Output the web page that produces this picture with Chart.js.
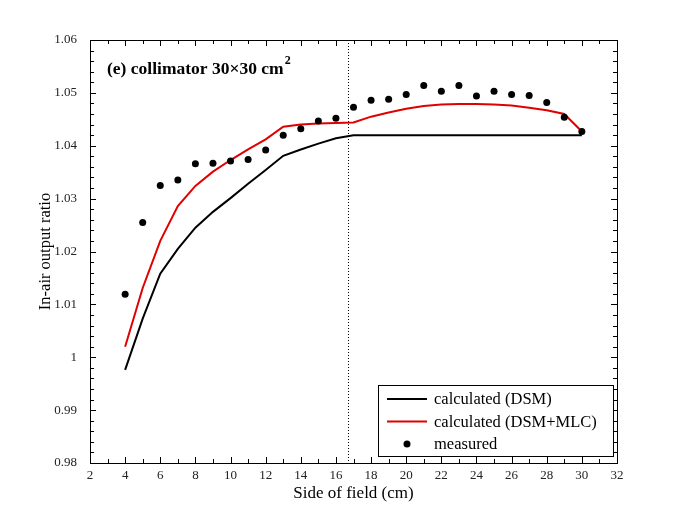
<!DOCTYPE html>
<html>
<head>
<meta charset="utf-8">
<script src="https://cdn.jsdelivr.net/npm/chart.js@4"></script>
<style>
  body { margin: 0; background: #fff; }
  #wrap { width: 681px; height: 521px; }
</style>
</head>
<body>
<div id="wrap"><canvas id="oarCanvas" width="681" height="521"></canvas></div>
<script>
// Field sizes (cm) and the three curves
const fieldSides = [4, 5, 6, 7, 8, 9, 10, 11, 12, 13, 14, 15, 16, 17, 18, 19, 20, 21, 22, 23, 24, 25, 26, 27, 28, 29, 30];
const calcDSM = [0.9976, 1.0073, 1.0158, 1.0205, 1.0245, 1.0275, 1.0301, 1.0328, 1.0354, 1.0381, 1.0393, 1.0404, 1.0414, 1.0420,
  1.0420, 1.0420, 1.0420, 1.0420, 1.0420, 1.0420, 1.0420, 1.0420, 1.0420, 1.0420, 1.0420, 1.0420, 1.0420];
const calcDSMMLC = [1.0020, 1.0131, 1.0220, 1.0286, 1.0324, 1.0351, 1.0373, 1.0393, 1.0412, 1.0436, 1.0440, 1.0442, 1.0443, 1.0444,
  1.0455, 1.0463, 1.0470, 1.0475, 1.0478, 1.0479, 1.0479, 1.0478, 1.0476, 1.0472, 1.0467, 1.0460, 1.0427];
const measured = [1.0119, 1.0255, 1.0325, 1.0335, 1.0366, 1.0367, 1.0371, 1.0374, 1.0392, 1.0420, 1.0432, 1.0447, 1.0452, 1.0473,
  1.0486, 1.0488, 1.0497, 1.0514, 1.0503, 1.0514, 1.0494, 1.0503, 1.0497, 1.0495, 1.0482, 1.0454, 1.0427];

const seriesLabels = ['calculated (DSM)', 'calculated (DSM+MLC)', 'measured'];
const panelTitle = '(e) collimator 30\u00d730 cm';
const dividerX = 16.7; // dotted vertical line

const xMin = 2, xMax = 32, xStep = 2, xMinor = 1;
const yMin = 0.98, yMax = 1.06, yStep = 0.01, yMinor = 0.002;

const serif = "'Liberation Serif', 'Times New Roman', serif";

function toPoints(ys) {
  return fieldSides.map((x, i) => ({ x: x, y: ys[i] }));
}

// box, inward ticks, divider line, panel title and legend
const framePlugin = {
  id: 'frame',
  beforeDatasetsDraw(chart) {
    const { ctx, chartArea: a, scales: { x } } = chart;
    const px = x.getPixelForValue(dividerX);
    ctx.save();
    ctx.strokeStyle = '#000';
    ctx.lineWidth = 1;
    ctx.setLineDash([1, 2]);
    ctx.beginPath();
    ctx.moveTo(Math.round(px) + 0.5, a.top);
    ctx.lineTo(Math.round(px) + 0.5, a.bottom);
    ctx.stroke();
    ctx.restore();
  },
  afterDraw(chart) {
    const { ctx, chartArea: a, scales: { x, y } } = chart;
    ctx.save();
    ctx.strokeStyle = '#000';
    ctx.lineWidth = 1;
    ctx.strokeRect(a.left + 0.5, a.top + 0.5, a.right - a.left, a.bottom - a.top);

    // x ticks (bottom + top)
    ctx.beginPath();
    for (let v = xMin; v <= xMax + 1e-9; v += xMinor) {
      const p = Math.round(x.getPixelForValue(v)) + 0.5;
      const len = (Math.abs(v / xStep - Math.round(v / xStep)) < 1e-6) ? 6 : 4;
      ctx.moveTo(p, a.bottom); ctx.lineTo(p, a.bottom - len);
      ctx.moveTo(p, a.top); ctx.lineTo(p, a.top + len);
    }
    // y ticks (left + right)
    const n = Math.round((yMax - yMin) / yMinor);
    for (let i = 0; i <= n; i++) {
      const v = yMin + i * yMinor;
      const p = Math.round(y.getPixelForValue(v)) + 0.5;
      const len = (i % 5 === 0) ? 6 : 4;
      ctx.moveTo(a.left, p); ctx.lineTo(a.left + len, p);
      ctx.moveTo(a.right, p); ctx.lineTo(a.right - len, p);
    }
    ctx.stroke();

    // panel title
    ctx.fillStyle = '#000';
    ctx.font = 'bold 17.5px ' + serif;
    ctx.textBaseline = 'alphabetic';
    ctx.textAlign = 'left';
    const tx = a.left + 17, ty = a.top + 34;
    ctx.fillText(panelTitle, tx, ty);
    const w = ctx.measureText(panelTitle).width;
    ctx.font = 'bold 12px ' + serif;
    ctx.fillText('2', tx + w + 1, ty - 10);

    // legend
    const bw = 235, bh = 71;
    const bx = a.right - 4 - bw, by = a.bottom - 7 - bh;
    ctx.fillStyle = '#fff';
    ctx.fillRect(bx, by, bw, bh);
    ctx.strokeRect(Math.round(bx) + 0.5, Math.round(by) + 0.5, bw, bh);
    ctx.font = '16.5px ' + serif;
    ctx.textBaseline = 'middle';
    chart.data.datasets.slice().sort((p, q) => p.legendIndex - q.legendIndex).forEach((ds, i) => {
      const ry = by + 14 + i * 22.5;
      if (ds.showLine) {
        ctx.strokeStyle = ds.borderColor;
        ctx.lineWidth = 2;
        ctx.beginPath();
        ctx.moveTo(bx + 9, ry); ctx.lineTo(bx + 49, ry);
        ctx.stroke();
      } else {
        ctx.fillStyle = ds.pointBackgroundColor;
        ctx.beginPath();
        ctx.arc(bx + 29, ry, 3.5, 0, Math.PI * 2);
        ctx.fill();
      }
      ctx.fillStyle = '#000';
      ctx.fillText(ds.label, bx + 56, ry + 1);
    });
    ctx.restore();
  }
};

const config = {
  type: 'scatter',
  data: {
    datasets: [
      {
        label: seriesLabels[2],
        legendIndex: 2,
        data: toPoints(measured),
        showLine: false,
        pointRadius: 3.5,
        pointBackgroundColor: '#000',
        pointBorderWidth: 0,
        order: 0
      },
      {
        label: seriesLabels[1],
        legendIndex: 1,
        data: toPoints(calcDSMMLC),
        showLine: true,
        borderColor: '#e00000',
        borderWidth: 2,
        pointRadius: 0,
        tension: 0,
        order: 1
      },
      {
        label: seriesLabels[0],
        legendIndex: 0,
        data: toPoints(calcDSM),
        showLine: true,
        borderColor: '#000',
        borderWidth: 2,
        pointRadius: 0,
        tension: 0,
        order: 2
      }
    ]
  },
  options: {
    responsive: false,
    animation: false,
    layout: { padding: { left: 0, top: 40, right: 64, bottom: 0 } },
    plugins: {
      legend: { display: false },
      tooltip: { enabled: false }
    },
    scales: {
      x: {
        type: 'linear',
        min: xMin,
        max: xMax,
        grid: { display: false },
        border: { display: false },
        afterFit: (s) => { s.height = 58; },
        ticks: {
          stepSize: xStep,
          padding: -3,
          color: '#222',
          font: { family: serif, size: 13 },
          maxRotation: 0
        },
        title: {
          display: true,
          text: 'Side of field (cm)',
          color: '#000',
          font: { family: serif, size: 17 },
          padding: { top: 0, bottom: 17 }
        }
      },
      y: {
        type: 'linear',
        min: yMin,
        max: yMax,
        grid: { display: false },
        border: { display: false },
        afterFit: (s) => { s.width = 90; },
        ticks: {
          stepSize: yStep,
          padding: 5,
          color: '#222',
          font: { family: serif, size: 13 },
          callback: (v) => String(Number(v.toFixed(2)))
        },
        title: {
          display: true,
          text: 'In-air output ratio',
          color: '#000',
          font: { family: serif, size: 16.5 },
          padding: { top: 36, bottom: 0 }
        }
      }
    }
  },
  plugins: [framePlugin]
};

new Chart(document.getElementById('oarCanvas'), config);
</script>
</body>
</html>
